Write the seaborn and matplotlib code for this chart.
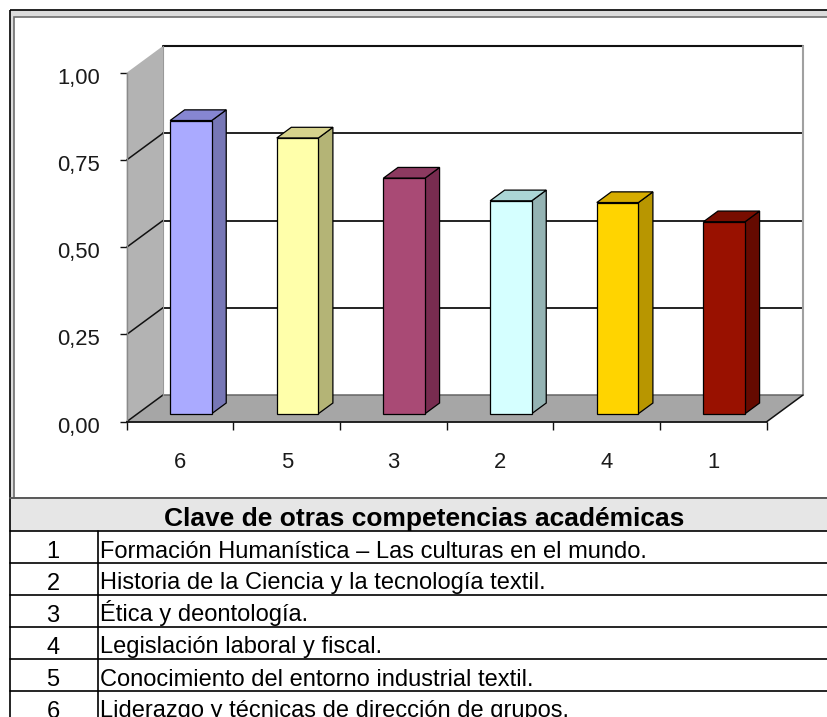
import numpy as np
import pandas as pd
import matplotlib
matplotlib.use("Agg")
import matplotlib.pyplot as plt
from matplotlib.patches import Polygon, Rectangle
from matplotlib.ticker import NullFormatter
from matplotlib.transforms import ScaledTranslation
import seaborn as sns

# ---------------- data ----------------
categories = ["6", "5", "3", "2", "4", "1"]
values = [0.84, 0.79, 0.675, 0.61, 0.605, 0.55]
front_colors = ["#AAAAFF", "#FFFFAA", "#A94A75", "#D5FFFF", "#FFD400", "#991100"]
top_colors = ["#8686D2", "#D6D28C", "#8C3A60", "#ABD6D6", "#D6AC00", "#780D00"]
side_colors = ["#7777B6", "#B4B476", "#782C50", "#94B3B3", "#B89600", "#650A00"]
y_ticks = [0.0, 0.25, 0.5, 0.75, 1.0]
y_tick_labels = ["0,00", "0,25", "0,50", "0,75", "1,00"]

table_title = "Clave de otras competencias académicas"
table_keys = ["1", "2", "3", "4", "5", "6"]
table_texts = [
    "Formación Humanística – Las culturas en el mundo.",
    "Historia de la Ciencia y la tecnología textil.",
    "Ética y deontología.",
    "Legislación laboral y fiscal.",
    "Conocimiento del entorno industrial textil.",
    "Liderazgo y técnicas de dirección de grupos.",
]

# ---------------- style ----------------
sns.set_theme(style="white")
plt.rcParams["font.family"] = ["Liberation Sans", "DejaVu Sans"]

W, H = 827, 717
fig = plt.figure(figsize=(W / 100, H / 100), dpi=100)
fig.patch.set_facecolor("white")

# background axes in pixel coordinates (frame + table)
bg = fig.add_axes([0, 0, 1, 1], zorder=0)
bg.set_xlim(0, W)
bg.set_ylim(H, 0)
bg.axis("off")

chart_bottom = 498
header_bottom = 531
row_h = 32
col_x = 97.7

bg.add_patch(Rectangle((10, 10), W, chart_bottom - 10, facecolor="#DCDCDC", edgecolor="none"))
bg.add_patch(Rectangle((14, 16.7), W, chart_bottom - 16.7, facecolor="white",
                       edgecolor="#6E6E6E", linewidth=1.2))
bg.add_patch(Rectangle((10, chart_bottom), W, header_bottom - chart_bottom,
                       facecolor="#E6E6E6", edgecolor="none"))
bg.plot([10, W], [10, 10], color="black", lw=1.2, solid_capstyle="butt")
bg.plot([10, 10], [10, H], color="black", lw=1.2, solid_capstyle="butt")
bg.plot([10, W], [chart_bottom, chart_bottom], color="#5A5A5A", lw=1.4)
bg.plot([10, W], [header_bottom, header_bottom], color="black", lw=1.2)
for k in range(1, len(table_keys)):
    yy = header_bottom + k * row_h
    bg.plot([10, W], [yy, yy], color="black", lw=1.2)
bg.plot([col_x, col_x], [header_bottom, H], color="black", lw=1.2)

bg.text(424, 526.4, table_title, ha="center", va="baseline",
        fontsize=19, fontweight="bold", color="black")
for i, (k, t) in enumerate(zip(table_keys, table_texts)):
    yb = header_bottom + (i + 1) * row_h - 5.5
    bg.text(53, yb, k, ha="center", va="baseline", fontsize=17, color="black")
    bg.text(100, yb, t, ha="left", va="baseline", fontsize=17, color="black")

# ---------------- chart axes ----------------
n = len(categories)
DX, DY = 0.34, 0.0765          # depth vector (data units)
F0, FD = 0.30, 0.40            # bar depth start / depth fraction
x0, x1 = -0.5, n - 0.5

left_px, right_px, bottom_px, top_px = 126.7, 803, 421.7, 46
ax = fig.add_axes([left_px / W, 1 - bottom_px / H,
                   (right_px - left_px) / W, (bottom_px - top_px) / H], zorder=1)
ax.patch.set_visible(False)

df = pd.DataFrame({"clave": categories, "valor": values})
sns.barplot(data=df, x="clave", y="valor", hue="clave", order=categories,
            hue_order=categories, palette=front_colors, saturation=1,
            width=0.39, legend=False, edgecolor="black", linewidth=0.9,
            errorbar=None, ax=ax, zorder=5)

bars = list(ax.patches)
for p in bars:
    idx = int(round(p.get_x() + p.get_width() / 2))
    p.set_x(p.get_x() + F0 * DX)
    p.set_y(F0 * DY)
    xa = p.get_x()
    xb = xa + p.get_width()
    yb = p.get_y()
    yt = yb + p.get_height()
    ddx, ddy = FD * DX, FD * DY
    ax.add_patch(Polygon([(xb, yb), (xb + ddx, yb + ddy), (xb + ddx, yt + ddy), (xb, yt)],
                         closed=True, facecolor=side_colors[idx], edgecolor="black",
                         linewidth=0.9, zorder=4))
    ax.add_patch(Polygon([(xa, yt), (xb, yt), (xb + ddx, yt + ddy), (xa + ddx, yt + ddy)],
                         closed=True, facecolor=top_colors[idx], edgecolor="black",
                         linewidth=0.9, zorder=4))

ymax = y_ticks[-1]
# back wall
ax.add_patch(Rectangle((x0 + DX, DY), x1 - x0, ymax, facecolor="white",
                       edgecolor="none", zorder=0.5, clip_on=False))
# left wall
ax.add_patch(Polygon([(x0, 0), (x0 + DX, DY), (x0 + DX, ymax + DY), (x0, ymax)],
                     closed=True, facecolor="#B3B3B3", edgecolor="none", zorder=0.6,
                     clip_on=False))
# floor
ax.add_patch(Polygon([(x0, 0), (x1, 0), (x1 + DX, DY), (x0 + DX, DY)],
                     closed=True, facecolor="#A6A6A6", edgecolor="none", zorder=0.7,
                     clip_on=False))
# gridlines on back wall and left wall
for v in y_ticks[1:-1]:
    ax.plot([x0 + DX, x1 + DX], [v + DY, v + DY], color="#111111", lw=1.3,
            zorder=1, clip_on=False)
for v in y_ticks[:-1]:
    ax.plot([x0, x0 + DX], [v, v + DY], color="#111111", lw=1.1, zorder=1, clip_on=False)
ax.plot([x0 + DX, x1 + DX], [ymax + DY, ymax + DY], color="#111111", lw=1.5,
        zorder=1, clip_on=False)
ax.plot([x0 + DX, x1 + DX], [DY, DY], color="#666666", lw=1.1, zorder=1, clip_on=False)
ax.plot([x1 + DX, x1 + DX], [DY, ymax + DY], color="#A0A0A0", lw=1.5, zorder=1,
        clip_on=False)
ax.plot([x0 + DX, x0 + DX], [DY, ymax + DY], color="#999999", lw=0.8, zorder=1,
        clip_on=False)
ax.plot([x0, x0], [0, ymax], color="#8A8A8A", lw=1.0, zorder=1, clip_on=False)
ax.plot([x1, x1 + DX], [0, DY], color="#111111", lw=1.1, zorder=1, clip_on=False)
ax.plot([x0, x1], [0, 0], color="#111111", lw=1.3, zorder=6, clip_on=False)

ax.set_xlim(x0, x1 + DX)
ax.set_ylim(0, ymax + DY)
for s in ax.spines.values():
    s.set_visible(False)
ax.set_xlabel("")
ax.set_ylabel("")

ax.set_yticks(y_ticks, labels=y_tick_labels)
ax.tick_params(axis="y", which="major", left=True, direction="out", length=5,
               width=1.0, color="#111111", pad=14, labelsize=15.8, labelcolor="#1A1A1A")
shift = ScaledTranslation(0, -3 / 100, fig.dpi_scale_trans)
for lab in ax.get_yticklabels():
    lab.set_transform(lab.get_transform() + shift)

ax.set_xticks(np.arange(n + 1) - 0.5)
ax.xaxis.set_major_formatter(NullFormatter())
ax.set_xticks(np.arange(n), labels=categories, minor=True)
ax.tick_params(axis="x", which="major", bottom=True, direction="out", length=5.8,
               width=1.0, color="#111111")
ax.tick_params(axis="x", which="minor", bottom=True, length=0, pad=22,
               labelsize=15.8, labelcolor="#1A1A1A")

fig.savefig("out.png", dpi=100, facecolor="white")
